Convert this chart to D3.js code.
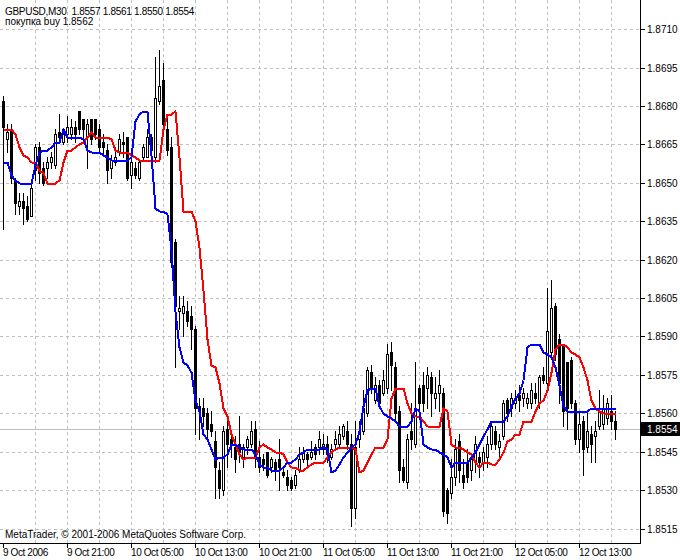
<!DOCTYPE html>
<html><head><meta charset="utf-8">
<script src="https://cdn.jsdelivr.net/npm/d3@7/dist/d3.min.js"></script>
<style>
html,body{margin:0;padding:0;background:#fff;}
svg{display:block;}
text{font-family:"Liberation Sans",Arial,sans-serif;font-size:10px;fill:#000;white-space:pre;}
</style></head><body>
<svg id="chart" width="680" height="560"></svg>
<script>
const titleText = "GBPUSD,M30  1.8557 1.8561 1.8550 1.8554";
const buyText = "покупка buy 1.8562";
const copyrightText = "MetaTrader, © 2001-2006 MetaQuotes Software Corp.";
const startTime = "2006-10-09 13:00";
const currentPrice = 1.8554;

const open = [1.8682,1.8667,1.8671,1.8651,1.8641,1.8643,1.8641,1.8637,1.8655,1.8664,1.8656,1.8656,1.8658,1.8657,1.8670,1.8666,1.8669,1.8669,1.8672,1.8678,
1.8675,1.8668,1.8675,1.8675,1.8671,1.8666,1.8663,1.8656,1.8658,1.8662,1.8666,1.8668,1.8653,1.8656,1.8652,1.8660,1.8660,1.8668,1.8660,1.8682,
1.8690,1.8671,1.8664,1.8627,1.8600,1.8599,1.8600,1.8598,1.8593,1.8563,1.8562,1.8560,1.8556,1.8549,1.8538,1.8530,1.8554,1.8550,1.8547,1.8548,
1.8543,1.8547,1.8548,1.8554,1.8543,1.8542,1.8545,1.8539,1.8541,1.8542,1.8537,1.8535,1.8534,1.8532,1.8538,1.8542,1.8544,1.8543,1.8547,1.8547,
1.8546,1.8548,1.8543,1.8548,1.8548,1.8551,1.8553,1.8548,1.8523,1.8550,1.8553,1.8560,1.8576,1.8565,1.8571,1.8568,1.8570,1.8584,1.8578,1.8561,
1.8539,1.8533,1.8553,1.8548,1.8570,1.8571,1.8570,1.8574,1.8566,1.8568,1.8568,1.8530,1.8529,1.8535,1.8549,1.8536,1.8541,1.8538,1.8541,1.8543,
1.8541,1.8543,1.8548,1.8553,1.8547,1.8551,1.8565,1.8562,1.8564,1.8567,1.8566,1.8564,1.8564,1.8568,1.8564,1.8575,1.8572,1.8584,1.8602,1.8589,
1.8587,1.8580,1.8581,1.8564,1.8550,1.8557,1.8547,1.8552,1.8551,1.8555,1.8556,1.8558,1.8561,1.8557];
const high = [1.8684,1.8673,1.8673,1.8652,1.8646,1.8646,1.8645,1.8649,1.8665,1.8666,1.8658,1.8660,1.8662,1.8671,1.8677,1.8671,1.8676,1.8675,1.8674,1.8678,
1.8675,1.8675,1.8675,1.8675,1.8673,1.8669,1.8665,1.8661,1.8664,1.8669,1.8670,1.8668,1.8660,1.8658,1.8659,1.8665,1.8671,1.8669,1.8699,1.8702,
1.8697,1.8676,1.8668,1.8628,1.8606,1.8606,1.8604,1.8602,1.8594,1.8566,1.8566,1.8562,1.8561,1.8553,1.8541,1.8555,1.8559,1.8553,1.8551,1.8559,
1.8548,1.8551,1.8557,1.8557,1.8549,1.8544,1.8545,1.8543,1.8542,1.8550,1.8539,1.8538,1.8535,1.8538,1.8547,1.8547,1.8545,1.8549,1.8548,1.8553,
1.8552,1.8551,1.8548,1.8553,1.8555,1.8556,1.8557,1.8552,1.8557,1.8557,1.8569,1.8578,1.8579,1.8574,1.8573,1.8577,1.8587,1.8588,1.8580,1.8563,
1.8542,1.8552,1.8564,1.8580,1.8571,1.8576,1.8578,1.8576,1.8574,1.8577,1.8570,1.8531,1.8542,1.8550,1.8552,1.8542,1.8546,1.8544,1.8551,1.8545,
1.8547,1.8551,1.8556,1.8555,1.8552,1.8565,1.8566,1.8568,1.8569,1.8571,1.8570,1.8568,1.8572,1.8572,1.8575,1.8578,1.8609,1.8612,1.8603,1.8591,
1.8587,1.8580,1.8582,1.8565,1.8561,1.8559,1.8561,1.8555,1.8557,1.8569,1.8567,1.8566,1.8567,1.8561];
const low = [1.8632,1.8662,1.8650,1.8638,1.8638,1.8634,1.8635,1.8637,1.8651,1.8650,1.8649,1.8652,1.8656,1.8656,1.8666,1.8665,1.8666,1.8667,1.8666,1.8669,
1.8667,1.8656,1.8665,1.8667,1.8662,1.8661,1.8650,1.8652,1.8657,1.8661,1.8660,1.8651,1.8648,1.8652,1.8651,1.8659,1.8660,1.8658,1.8658,1.8681,
1.8672,1.8661,1.8617,1.8578,1.8593,1.8590,1.8594,1.8585,1.8552,1.8550,1.8555,1.8550,1.8551,1.8527,1.8527,1.8528,1.8539,1.8543,1.8537,1.8541,
1.8539,1.8544,1.8547,1.8539,1.8537,1.8538,1.8535,1.8537,1.8534,1.8530,1.8535,1.8530,1.8530,1.8531,1.8537,1.8541,1.8539,1.8542,1.8542,1.8544,
1.8544,1.8541,1.8542,1.8547,1.8547,1.8550,1.8546,1.8516,1.8519,1.8547,1.8552,1.8559,1.8568,1.8564,1.8563,1.8567,1.8568,1.8569,1.8557,1.8533,
1.8533,1.8531,1.8546,1.8547,1.8559,1.8561,1.8562,1.8559,1.8562,1.8561,1.8520,1.8517,1.8527,1.8532,1.8533,1.8531,1.8533,1.8534,1.8537,1.8535,
1.8538,1.8539,1.8546,1.8546,1.8543,1.8550,1.8557,1.8559,1.8562,1.8561,1.8563,1.8562,1.8562,1.8564,1.8562,1.8572,1.8571,1.8582,1.8581,1.8564,
1.8555,1.8554,1.8562,1.8548,1.8545,1.8536,1.8545,1.8541,1.8541,1.8554,1.8554,1.8556,1.8554,1.8550];
const close = [1.8672,1.8670,1.8652,1.8642,1.8643,1.8640,1.8636,1.8648,1.8664,1.8654,1.8650,1.8658,1.8660,1.8669,1.8668,1.8669,1.8672,1.8672,1.8669,1.8671,
1.8671,1.8673,1.8667,1.8669,1.8664,1.8664,1.8655,1.8659,1.8660,1.8667,1.8665,1.8652,1.8658,1.8653,1.8658,1.8664,1.8668,1.8663,1.8683,1.8688,
1.8673,1.8663,1.8619,1.8602,1.8601,1.8602,1.8596,1.8593,1.8562,1.8561,1.8559,1.8554,1.8553,1.8539,1.8531,1.8553,1.8548,1.8548,1.8542,1.8545,
1.8547,1.8550,1.8553,1.8543,1.8539,1.8540,1.8536,1.8542,1.8538,1.8539,1.8536,1.8532,1.8531,1.8536,1.8542,1.8545,1.8542,1.8545,1.8544,1.8550,
1.8548,1.8544,1.8546,1.8550,1.8552,1.8555,1.8548,1.8523,1.8547,1.8553,1.8562,1.8577,1.8570,1.8571,1.8564,1.8573,1.8583,1.8579,1.8560,1.8538,
1.8534,1.8550,1.8550,1.8561,1.8564,1.8564,1.8575,1.8568,1.8568,1.8571,1.8522,1.8521,1.8535,1.8546,1.8538,1.8533,1.8535,1.8542,1.8548,1.8541,
1.8545,1.8548,1.8555,1.8548,1.8549,1.8564,1.8560,1.8566,1.8566,1.8565,1.8568,1.8566,1.8569,1.8566,1.8574,1.8573,1.8592,1.8601,1.8583,1.8572,
1.8561,1.8562,1.8564,1.8550,1.8556,1.8546,1.8553,1.8548,1.8553,1.8561,1.8562,1.8564,1.8557,1.8554];
const blueLine = [1.8658,1.8658,1.8653,1.8651,1.8650,1.8650,1.8650,1.8650,1.8657,1.8662,1.8663,1.8663,1.8664,1.8666,1.8666,1.8671,1.8668,1.8668,1.8668,1.8668,
1.8667,1.8663,1.8662,1.8662,1.8662,1.8661,1.8660,1.8659,1.8659,1.8659,1.8659,1.8659,1.8660,1.8674,1.8677,1.8678,1.8678,1.8661,1.8640,1.8639,
1.8639,1.8638,1.8624,1.8600,1.8586,1.8580,1.8579,1.8576,1.8565,1.8561,1.8552,1.8550,1.8546,1.8542,1.8543,1.8543,1.8544,1.8548,1.8548,1.8547,
1.8546,1.8546,1.8546,1.8544,1.8540,1.8539,1.8539,1.8538,1.8538,1.8538,1.8539,1.8541,1.8541,1.8542,1.8544,1.8545,1.8546,1.8546,1.8546,1.8546,
1.8547,1.8546,1.8537,1.8538,1.8540,1.8543,1.8545,1.8547,1.8548,1.8553,1.8563,1.8569,1.8570,1.8570,1.8563,1.8560,1.8559,1.8558,1.8557,1.8555,
1.8555,1.8555,1.8557,1.8562,1.8561,1.8548,1.8547,1.8546,1.8546,1.8545,1.8544,1.8543,1.8539,1.8541,1.8541,1.8541,1.8541,1.8543,1.8545,1.8548,
1.8551,1.8554,1.8557,1.8557,1.8557,1.8557,1.8559,1.8563,1.8566,1.8568,1.8573,1.8586,1.8587,1.8587,1.8587,1.8584,1.8583,1.8582,1.8578,1.8571,
1.8563,1.8561,1.8561,1.8561,1.8561,1.8561,1.8561,1.8562,1.8562,1.8562,1.8562,1.8562,1.8562,1.8562];
const redLine = [1.8671,1.8671,1.8671,1.8669,1.8664,1.8661,1.8660,1.8658,1.8658,1.8655,1.8654,1.8650,1.8650,1.8650,1.8651,1.8658,1.8663,1.8663,1.8664,1.8665,
1.8666,1.8668,1.8670,1.8668,1.8668,1.8668,1.8668,1.8667,1.8663,1.8662,1.8662,1.8662,1.8661,1.8660,1.8659,1.8659,1.8659,1.8659,1.8659,1.8659,
1.8671,1.8677,1.8677,1.8678,1.8660,1.8639,1.8639,1.8639,1.8635,1.8625,1.8608,1.8589,1.8579,1.8578,1.8572,1.8562,1.8559,1.8552,1.8548,1.8544,
1.8542,1.8543,1.8543,1.8543,1.8547,1.8548,1.8547,1.8546,1.8545,1.8545,1.8544,1.8541,1.8539,1.8539,1.8538,1.8538,1.8539,1.8540,1.8541,1.8541,
1.8541,1.8543,1.8545,1.8546,1.8547,1.8547,1.8547,1.8547,1.8546,1.8537,1.8538,1.8541,1.8544,1.8547,1.8547,1.8547,1.8550,1.8566,1.8570,1.8570,
1.8570,1.8564,1.8560,1.8559,1.8559,1.8557,1.8555,1.8555,1.8555,1.8555,1.8562,1.8561,1.8548,1.8547,1.8547,1.8546,1.8545,1.8544,1.8541,1.8539,
1.8541,1.8541,1.8540,1.8540,1.8542,1.8545,1.8549,1.8550,1.8552,1.8552,1.8557,1.8557,1.8557,1.8561,1.8564,1.8565,1.8569,1.8576,1.8585,1.8587,
1.8587,1.8586,1.8584,1.8583,1.8582,1.8578,1.8573,1.8565,1.8562,1.8561,1.8560,1.8560,1.8560,1.8560];

const priceTicks = [1.8515,1.8530,1.8545,1.8560,1.8575,1.8590,1.8605,1.8620,1.8635,1.8650,1.8665,1.8680,1.8695,1.8710];
const timeTickTimes = ["2006-10-09 13:00","2006-10-09 21:00","2006-10-10 05:00","2006-10-10 13:00","2006-10-10 21:00","2006-10-11 05:00","2006-10-11 13:00","2006-10-11 21:00","2006-10-12 05:00","2006-10-12 13:00"];
const timeTickLabels = ["9 Oct 2006","9 Oct 21:00","10 Oct 05:00","10 Oct 13:00","10 Oct 21:00","11 Oct 05:00","11 Oct 13:00","11 Oct 21:00","12 Oct 05:00","12 Oct 13:00"];

// ---- layout ----
const W = 680, H = 560;
const plotRight = 640, plotBottom = 543;
const slots = 160; // visible bar slots in window (bars + right shift)
const N = open.length;
const parse = d3.timeParse("%Y-%m-%d %H:%M");
const t0 = parse(startTime);
const times = d3.range(N).map(i => d3.timeMinute.offset(t0, 30 * i));
const fmtKey = d3.timeFormat("%Y-%m-%d %H:%M");
const timeKeys = times.map(fmtKey);

const x = d3.scaleBand().domain(d3.range(slots)).range([1.5, 1.5 + plotRight]).padding(0);
const cx = i => Math.floor(x(i) + x.bandwidth() / 2) + 0.5;
const y = d3.scaleLinear().domain([1.8515, 1.8710]).range([529, 29.8]);
const py = v => Math.floor(y(v));

const svg = d3.select("#chart");
svg.append("rect").attr("width", W).attr("height", H).attr("fill", "#fff");

const grid = svg.append("g").attr("shape-rendering", "crispEdges")
  .attr("stroke", "#c0c0c0").attr("stroke-dasharray", "3,3");
grid.selectAll("line.h").data(priceTicks).join("line").attr("class", "h")
  .attr("x1", 0).attr("x2", plotRight)
  .attr("y1", d => py(d) + 0.5).attr("y2", d => py(d) + 0.5);
grid.selectAll("line.v").data(d3.range(8, slots, 8)).join("line").attr("class", "v")
  .attr("x1", d => cx(d)).attr("x2", d => cx(d))
  .attr("y1", 0).attr("y2", plotBottom);

// current price line
svg.append("line").attr("shape-rendering", "crispEdges")
  .attr("x1", 0).attr("x2", plotRight)
  .attr("y1", py(currentPrice) + 0.5).attr("y2", py(currentPrice) + 0.5)
  .attr("stroke", "#c0c0c0");

// candles
const bars = d3.range(N).map(i => ({i, o: open[i], h: high[i], l: low[i], c: close[i]}));
const cg = svg.append("g").attr("shape-rendering", "crispEdges");
cg.selectAll("line.wick").data(bars).join("line").attr("class", "wick")
  .attr("x1", d => cx(d.i)).attr("x2", d => cx(d.i))
  .attr("y1", d => py(d.h)).attr("y2", d => py(d.l) + 1)
  .attr("stroke", "#000");
cg.selectAll("rect.bear").data(bars.filter(d => d.c < d.o)).join("rect").attr("class", "bear")
  .attr("x", d => cx(d.i) - 1.5).attr("width", 3)
  .attr("y", d => py(d.o)).attr("height", d => Math.max(1, py(d.c) - py(d.o) + 1))
  .attr("fill", "#000");
cg.selectAll("rect.bull").data(bars.filter(d => d.c >= d.o)).join("rect").attr("class", "bull")
  .attr("x", d => cx(d.i) - 1).attr("width", 2)
  .attr("y", d => py(d.c) + 0.5).attr("height", d => Math.max(0, py(d.o) - py(d.c)))
  .attr("fill", "#fff").attr("stroke", "#000");

// indicator lines
const line = d3.line().x((d, i) => cx(i)).y(d => py(d) + 0.5);
svg.append("path").datum(redLine).attr("d", line).attr("shape-rendering", "crispEdges")
  .attr("fill", "none").attr("stroke", "#ff0000").attr("stroke-width", 2).attr("stroke-linejoin", "round");
svg.append("path").datum(blueLine).attr("d", line).attr("shape-rendering", "crispEdges")
  .attr("fill", "none").attr("stroke", "#0000ff").attr("stroke-width", 2).attr("stroke-linejoin", "round");

// axes frame
const ax = svg.append("g").attr("shape-rendering", "crispEdges").attr("stroke", "#000");
ax.append("line").attr("x1", plotRight + 0.5).attr("x2", plotRight + 0.5).attr("y1", 0).attr("y2", plotBottom + 1);
ax.append("line").attr("x1", 0).attr("x2", plotRight + 1).attr("y1", plotBottom + 0.5).attr("y2", plotBottom + 0.5);

// price axis
const pa = svg.append("g");
pa.selectAll("line").data(priceTicks).join("line").attr("shape-rendering", "crispEdges")
  .attr("x1", plotRight + 1).attr("x2", plotRight + 5)
  .attr("y1", d => py(d) + 0.5).attr("y2", d => py(d) + 0.5).attr("stroke", "#000");
pa.selectAll("text").data(priceTicks).join("text")
  .attr("x", 647).attr("y", d => py(d) + 4).text(d => d.toFixed(4));

// current price tag
const cpY = py(currentPrice);
svg.append("rect").attr("x", 641).attr("y", cpY - 7).attr("width", 39).attr("height", 14).attr("fill", "#000");
svg.append("text").attr("x", 647).attr("y", cpY + 4).style("fill", "#fff").text(currentPrice.toFixed(4));

// time axis
const ta = svg.append("g");
const tickIdx = timeTickTimes.map(t => timeKeys.indexOf(t));
ta.selectAll("line").data(tickIdx).join("line").attr("shape-rendering", "crispEdges")
  .attr("x1", d => cx(d)).attr("x2", d => cx(d))
  .attr("y1", plotBottom + 1).attr("y2", plotBottom + 5).attr("stroke", "#000");
ta.selectAll("text").data(tickIdx).join("text")
  .attr("x", d => cx(d) - 0.5).attr("y", 556).style("letter-spacing", "-0.4px")
  .text((d, k) => timeTickLabels[k]);

// texts
svg.append("text").attr("x", 5).attr("y", 15).style("letter-spacing", "-0.3px").text(titleText);
svg.append("text").attr("x", 5).attr("y", 25).text(buyText);
svg.append("text").attr("x", 5).attr("y", 538).text(copyrightText);
</script>
</body></html>
